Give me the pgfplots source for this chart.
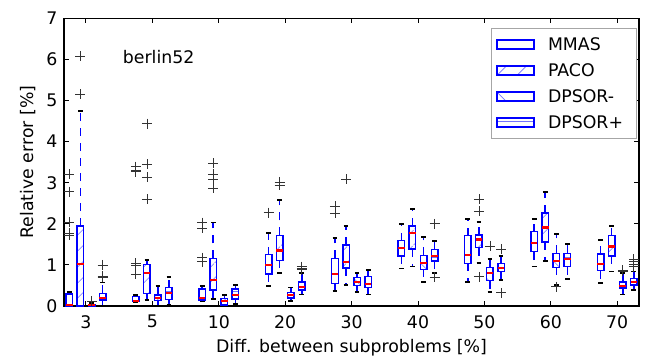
\documentclass[border=0pt]{standalone}
\usepackage{fontspec}
\setmainfont{DejaVu Sans}
\usepackage{pgfplots}
\pgfplotsset{compat=1.18}
\usepackage{pgfplotstable}
\usepgfplotslibrary{statistics}
\usetikzlibrary{patterns.meta}

% outliers: group, value
\pgfplotstableread{
g v
1 3.21
1 2.78
1 2.04
1 1.77
1 1.73
2 3.39
2 3.31
2 3.27
2 1.04
2 0.99
2 0.78
3 2.03
3 1.90
3 1.18
3 1.08
4 2.27
5 2.43
5 2.26
}\mmasout
\pgfplotstableread{
g v
1 6.08
1 5.15
2 4.44
2 3.45
2 3.13
2 2.60
3 3.47
3 3.20
3 3.07
3 2.86
4 3.02
4 2.94
5 3.08
7 2.60
7 2.30
7 0.71
}\pacoout
\pgfplotstableread{
g v
1 0.11
7 1.46
8 0.47
9 0.84
9 0.87
}\dpsormout
\pgfplotstableread{
g v
1 1.00
1 0.73
1 0.70
4 0.96
4 0.92
4 0.88
6 2.00
6 0.70
7 1.38
7 0.32
9 1.14
9 1.08
9 1.01
9 0.96
}\dpsorpout

\pgfplotsset{
  mmasbox/.style={forget plot, draw=blue, line width=1.5bp},
  pacobox/.style={forget plot, draw=blue, line width=1.5bp,
    boxplot/every box/.style={pattern={Lines[angle=45,distance=11.8bp,line width=0.7bp]}, pattern color=blue!55}},
  dmbox/.style={forget plot, draw=blue, line width=1.5bp,
    boxplot/every box/.style={pattern={Lines[angle=-45,distance=11.8bp,line width=0.7bp]}, pattern color=blue!55}},
  dpbox/.style={forget plot, draw=blue, line width=1.5bp,
    boxplot/every box/.style={pattern={Lines[angle=0,distance=16.7bp,line width=0.7bp]}, pattern color=blue!55}},
  outl/.style={forget plot, only marks, mark=+, mark size=5bp, mark options={draw=black!80, line width=0.7bp}},
}
% #1 style, #2 position, #3 lower whisker, #4 lower quartile, #5 median, #6 upper quartile, #7 upper whisker
\newcommand{\bx}[7]{%
  \addplot[#1, boxplot prepared={draw position=#2, lower whisker=#3, lower quartile=#4,
    median=#5, upper quartile=#6, upper whisker=#7}] coordinates {};}

\begin{document}
\begin{tikzpicture}
\path[use as bounding box] (-64bp,-52bp) rectangle (582bp,306bp);
\begin{axis}[
  scale only axis, width=575bp, height=287.7bp,
  xmin=0.669, xmax=9.328, ymin=0, ymax=7,
  xtick={1,...,9}, xticklabels={3,5,10,20,30,40,50,60,70},
  ytick={0,...,7},
  font=\fontsize{17.4}{20}\selectfont,
  /pgf/number format/assume math mode=true,
  tick align=inside, major tick length=5bp,
  tick style={black, line width=1bp},
  axis line style={line width=1.3bp},
  xticklabel style={inner sep=0pt, yshift=-9bp},
  yticklabel style={inner sep=0pt, xshift=-6.5bp},
  xlabel={Diff. between subproblems [\%]},
  ylabel={Relative error [\%]},
  every axis x label/.style={at={(axis description cs:0.5,-0.160)}, anchor=base},
  every axis y label/.style={at={(axis description cs:-0.0539,0.5)}, anchor=base, rotate=90},
  legend style={at={(0.9957,0.9652)}, anchor=north east, draw=gray!70, line width=1bp,
    fill=white, inner xsep=5bp, inner ysep=9.5bp, row sep=13.3bp, column sep=13.5bp,
    nodes={inner sep=0pt, text height=12.6bp, text depth=0pt, text width=83bp, align=left}},
  legend cell align=left,
  boxplot/draw direction=y,
  boxplot/box extend=0.098,
  boxplot/whisker extend=0.07,
  boxplot/every median/.style={draw=red, line width=2.2bp},
  boxplot/draw/lower whisker/.code={%
    \draw[blue, line width=1.6bp, dash pattern=on 8bp off 7bp]
      (boxplot box cs:\pgfplotsboxplotvalue{lower quartile},0.5) --
      (boxplot box cs:\pgfplotsboxplotvalue{lower whisker},0.5);
    \draw[black, line width=1.8bp]
      (boxplot whisker cs:\pgfplotsboxplotvalue{lower whisker},0) --
      (boxplot whisker cs:\pgfplotsboxplotvalue{lower whisker},1);
  },
  boxplot/draw/upper whisker/.code={%
    \draw[blue, line width=1.6bp, dash pattern=on 8bp off 7bp]
      (boxplot box cs:\pgfplotsboxplotvalue{upper quartile},0.5) --
      (boxplot box cs:\pgfplotsboxplotvalue{upper whisker},0.5);
    \draw[black, line width=1.8bp]
      (boxplot whisker cs:\pgfplotsboxplotvalue{upper whisker},0) --
      (boxplot whisker cs:\pgfplotsboxplotvalue{upper whisker},1);
  },
]
\addlegendimage{legend image code/.code={\draw[blue, line width=1.5bp] (0bp,-4.5bp) rectangle (37bp,4.5bp);}}
\addlegendentry{MMAS}
\addlegendimage{legend image code/.code={%
  \draw[blue!55, line width=0.7bp] (0.7bp,-4.5bp) -- (9.7bp,4.5bp) (20.7bp,-4.5bp) -- (29.7bp,4.5bp);
  \draw[blue, line width=1.5bp] (0bp,-4.5bp) rectangle (37bp,4.5bp);}}
\addlegendentry{PACO}
\addlegendimage{legend image code/.code={%
  \draw[blue!55, line width=0.7bp] (0bp,4.5bp) -- (9bp,-4.5bp);
  \draw[blue, line width=1.5bp] (0bp,-4.5bp) rectangle (37bp,4.5bp);}}
\addlegendentry{DPSOR-}
\addlegendimage{legend image code/.code={%
  \draw[blue!55, line width=0.7bp] (0bp,1bp) -- (37bp,1bp);
  \draw[blue, line width=1.5bp] (0bp,-4.5bp) rectangle (37bp,4.5bp);}}
\addlegendentry{DPSOR+}

% MMAS
\bx{mmasbox}{0.75}{0.00}{0.00}{0.03}{0.29}{0.35}
\bx{mmasbox}{1.75}{0.10}{0.11}{0.13}{0.23}{0.26}
\bx{mmasbox}{2.75}{0.12}{0.15}{0.20}{0.41}{0.49}
\bx{mmasbox}{3.75}{0.49}{0.78}{1.00}{1.25}{1.78}
\bx{mmasbox}{4.75}{0.37}{0.55}{0.77}{1.16}{1.66}
\bx{mmasbox}{5.75}{0.91}{1.22}{1.41}{1.59}{2.00}
\bx{mmasbox}{6.75}{0.59}{1.04}{1.25}{1.71}{2.12}
\bx{mmasbox}{7.75}{0.96}{1.32}{1.54}{1.81}{2.12}
\bx{mmasbox}{8.75}{0.55}{0.86}{1.03}{1.27}{1.61}
% PACO
\bx{pacobox}{0.9167}{0.00}{0.00}{1.02}{1.95}{4.75}
\bx{pacobox}{1.9167}{0.15}{0.31}{0.81}{1.01}{1.12}
\bx{pacobox}{2.9167}{0.17}{0.39}{0.63}{1.16}{2.03}
\bx{pacobox}{3.9167}{0.81}{1.11}{1.35}{1.72}{2.58}
\bx{pacobox}{4.9167}{0.51}{0.92}{1.08}{1.49}{1.95}
\bx{pacobox}{5.9167}{0.96}{1.39}{1.78}{1.95}{2.36}
\bx{pacobox}{6.9167}{1.04}{1.42}{1.62}{1.73}{2.04}
\bx{pacobox}{7.9167}{1.10}{1.56}{1.91}{2.26}{2.77}
\bx{pacobox}{8.9167}{0.84}{1.22}{1.45}{1.71}{1.95}
% DPSOR-
\bx{dmbox}{1.0833}{0.00}{0.00}{0.02}{0.04}{0.08}
\bx{dmbox}{2.0833}{0.00}{0.13}{0.20}{0.27}{0.49}
\bx{dmbox}{3.0833}{0.02}{0.03}{0.12}{0.18}{0.27}
\bx{dmbox}{4.0833}{0.12}{0.20}{0.27}{0.33}{0.45}
\bx{dmbox}{5.0833}{0.34}{0.50}{0.58}{0.69}{0.81}
\bx{dmbox}{6.0833}{0.59}{0.89}{1.05}{1.23}{1.68}
\bx{dmbox}{7.0833}{0.35}{0.62}{0.81}{0.94}{1.15}
\bx{dmbox}{8.0833}{0.52}{0.94}{1.10}{1.28}{1.75}
\bx{dmbox}{9.0833}{0.28}{0.44}{0.49}{0.58}{0.80}
% DPSOR+
\bx{dpbox}{1.25}{0.00}{0.15}{0.19}{0.31}{0.57}
\bx{dpbox}{2.25}{0.02}{0.16}{0.32}{0.45}{0.71}
\bx{dpbox}{3.25}{0.05}{0.17}{0.27}{0.41}{0.51}
\bx{dpbox}{4.25}{0.28}{0.39}{0.47}{0.58}{0.81}
\bx{dpbox}{5.25}{0.28}{0.45}{0.54}{0.72}{0.88}
\bx{dpbox}{6.25}{0.81}{1.10}{1.22}{1.38}{1.59}
\bx{dpbox}{7.25}{0.64}{0.84}{0.92}{1.04}{1.22}
\bx{dpbox}{8.25}{0.65}{0.96}{1.14}{1.28}{1.51}
\bx{dpbox}{9.25}{0.39}{0.51}{0.59}{0.67}{0.84}

\addplot[outl] table[x expr=\thisrow{g}-0.25, y=v] {\mmasout};
\addplot[outl] table[x expr=\thisrow{g}-0.0833, y=v] {\pacoout};
\addplot[outl] table[x expr=\thisrow{g}+0.0833, y=v] {\dpsormout};
\addplot[outl] table[x expr=\thisrow{g}+0.25, y=v] {\dpsorpout};

\node[anchor=base west, inner sep=0pt] at (axis cs:1.553,5.905) {berlin52};
\end{axis}
\end{tikzpicture}
\end{document}
